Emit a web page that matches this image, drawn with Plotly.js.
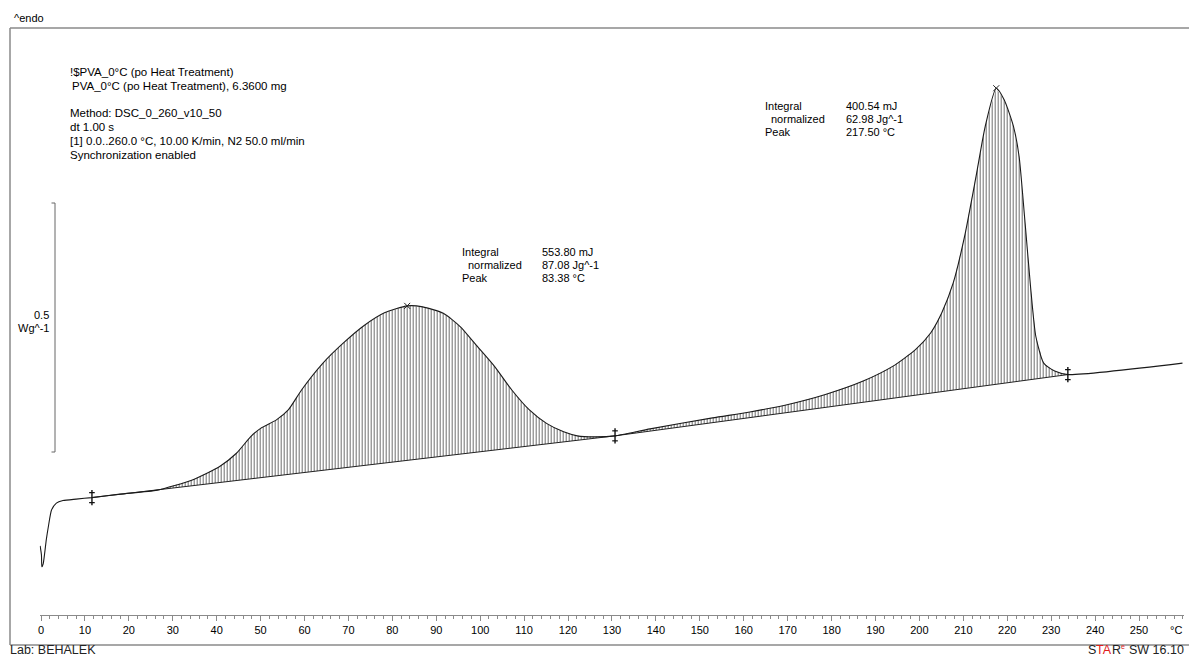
<!DOCTYPE html>
<html>
<head>
<meta charset="utf-8">
<script src="https://cdn.plot.ly/plotly-3.0.1.min.js"></script>
<style>html,body{margin:0;padding:0;background:#fff;}#chart{width:1189px;height:657px;}</style>
</head>
<body>
<div id="chart"></div>
<script>
// ---- data (temperature in °C, heat flow in W/g, endo up) ----
const tempC = [-0.2, 0.1, 0.2, 0.5, 1.2, 1.7, 2.4, 3.5, 5.0, 8.0, 11.6, 18.0, 26.5, 34.3, 40.6, 44.5, 47.7, 50.0, 53.6, 56.3,
  59.4, 64.1, 68.8, 73.5, 78.2, 83.4, 86.9, 91.6, 95.5, 99.4, 103.3, 107.2, 111.2, 115.1, 119.0, 122.1, 126.0, 130.7,
  138.7, 152.9, 161.4, 170.1, 178.6, 187.2, 194.0, 199.1, 202.6, 205.1, 207.7, 210.3, 212.9, 215.0, 217.5, 219.3,
  221.4, 222.7, 224.0, 225.3, 226.5, 228.3, 230.8, 233.8, 259.9];
const heatFlow = [-0.052, -0.070, -0.094, -0.088, -0.040, -0.012, 0.020, 0.034, 0.039, 0.042, 0.045, 0.052, 0.060, 0.080,
  0.107, 0.134, 0.167, 0.184, 0.201, 0.221, 0.262, 0.314, 0.355, 0.390, 0.416, 0.430, 0.428, 0.415, 0.388, 0.348,
  0.308, 0.261, 0.221, 0.194, 0.177, 0.169, 0.167, 0.169, 0.183, 0.205, 0.217, 0.232, 0.252, 0.279, 0.309, 0.342,
  0.376, 0.416, 0.476, 0.570, 0.690, 0.791, 0.867, 0.844, 0.791, 0.730, 0.603, 0.469, 0.369, 0.315, 0.299, 0.292, 0.315];

// integration limits (start/end of each integral) and linear baselines
const limitT = [11.6, 130.7, 233.8];
const limitW = [0.045, 0.169, 0.292];
// peaks
const peakT = [83.38, 217.50];
const peakW = [0.430, 0.867];
const integralMJ = ["553.80 mJ", "400.54 mJ"];
const normalized = ["87.08 Jg^-1", "62.98 Jg^-1"];
const peakLabel = ["83.38 °C", "217.50 °C"];
// axis ticks
const tickValues = [0, 10, 20, 30, 40, 50, 60, 70, 80, 90, 100, 110, 120, 130, 140, 150, 160, 170, 180, 190, 200, 210, 220, 230, 240, 250];
const scaleBarW = 0.5;

const headerLines = ["!$PVA_0°C (po Heat Treatment)", "PVA_0°C (po Heat Treatment), 6.3600 mg"];
const methodLines = ["Method: DSC_0_260_v10_50", "dt 1.00 s", "[1] 0.0..260.0 °C, 10.00 K/min, N2 50.0 ml/min", "Synchronization enabled"];

// ---- page geometry ----
const W = 1189, H = 657;
const FONT = "Liberation Sans, Arial, sans-serif";
const px = v => v / W;
const py = v => 1 - v / H;
// y scale: 498 px per W/g, heat flow 0 at pixel row 520
const yTop = 520 / 498, yBot = (520 - H) / 498;

const traces = [];
// hatched integral areas
for (let k = 0; k < 2; k++) {
  const t0 = limitT[k], t1 = limitT[k + 1];
  const xs = [], ys = [];
  for (let i = 0; i < tempC.length; i++) {
    if (tempC[i] >= t0 && tempC[i] <= t1) { xs.push(tempC[i]); ys.push(heatFlow[i]); }
  }
  xs.push(t1, t0); ys.push(limitW[k + 1], limitW[k]);
  traces.push({
    x: xs, y: ys, type: 'scatter', mode: 'lines', fill: 'toself', hoverinfo: 'skip',
    line: {width: 0, color: 'rgba(0,0,0,0)', shape: 'linear'},
    fillcolor: 'rgba(255,255,255,0)',
    fillpattern: {shape: '|', size: 3, solidity: 0.35, fgcolor: '#6e6e6e', bgcolor: 'rgba(255,255,255,0)'}
  });
}
// baselines
traces.push({x: limitT, y: limitW, type: 'scatter', mode: 'lines', line: {color: '#222', width: 1}, hoverinfo: 'skip'});
// measured curve
traces.push({x: tempC, y: heatFlow, type: 'scatter', mode: 'lines', line: {color: '#1a1a1a', width: 1.1, shape: 'spline', smoothing: 0.6}, hoverinfo: 'skip'});
// integration limit markers (vertical tick with small caps)
traces.push({x: limitT, y: limitW, type: 'scatter', mode: 'markers', hoverinfo: 'skip',
  marker: {symbol: 'line-ns-open', size: 11, color: '#111', line: {color: '#111', width: 1.4}}});
traces.push({x: limitT.concat(limitT), y: limitW.map(v => v + 5 / 498).concat(limitW.map(v => v - 5 / 498)), type: 'scatter', mode: 'markers', hoverinfo: 'skip',
  marker: {symbol: 'line-ew-open', size: 4, color: '#111', line: {color: '#111', width: 1.2}}});
// peak markers
traces.push({x: peakT, y: peakW, type: 'scatter', mode: 'markers', hoverinfo: 'skip',
  marker: {symbol: 'x-thin-open', size: 6, color: '#222', line: {color: '#222', width: 1}}});

const ann = [];
function txt(x, y, text, opts) {
  ann.push(Object.assign({xref: 'paper', yref: 'paper', x: px(x), y: py(y), text: text, showarrow: false,
    xanchor: 'left', yanchor: 'middle', font: {family: FONT, size: 11, color: '#000'}}, opts || {}));
}
txt(12, 18, "^endo");
headerLines.forEach((s, i) => txt(i === 0 ? 68 : 70, 72 + i * 14, s, {font: {family: FONT, size: 11.5, color: '#000'}}));
methodLines.forEach((s, i) => txt(68, 113 + i * 14, s, {font: {family: FONT, size: 11.5, color: '#000'}}));
// integral tables
const tables = [{lx: 460, vx: 540, y0: 252}, {lx: 763, vx: 844, y0: 106}];
tables.forEach((t, k) => {
  txt(t.lx, t.y0, "Integral");
  txt(t.lx + 6, t.y0 + 13, "normalized");
  txt(t.lx, t.y0 + 26, "Peak");
  txt(t.vx, t.y0, integralMJ[k]);
  txt(t.vx, t.y0 + 13, normalized[k]);
  txt(t.vx, t.y0 + 26, peakLabel[k]);
});
// scale bar label
txt(51, 315, String(scaleBarW), {xanchor: 'right'});
txt(51, 328, "Wg^-1", {xanchor: 'right'});
// unit at axis end
txt(1168, 630, "°C");
// footer
const FOOT = {family: FONT, size: 12.5, color: '#222'};
const RED = {family: FONT, size: 12.5, color: '#e0201b'};
txt(8, 650, "Lab: BEHALEK", {font: FOOT});
txt(1186, 650, "SW 16.10", {xanchor: 'right', font: FOOT});
txt(1086, 650, "S", {font: FOOT});
txt(1094.3, 650, "TA", {font: RED});
txt(1110.3, 650, "R", {font: FOOT});
txt(1119, 646, "e", {font: {family: FONT, size: 7, color: '#e0201b'}});

const barTopW = yTop - 203 / 498;
const shapes = [
  // frame
  {type: 'line', xref: 'paper', yref: 'paper', x0: px(10), x1: px(1189), y0: py(28), y1: py(28), line: {color: '#8a8a8a', width: 1.5}},
  {type: 'line', xref: 'paper', yref: 'paper', x0: px(10), x1: px(10), y0: py(28), y1: py(645), line: {color: '#8a8a8a', width: 1.5}},
  {type: 'line', xref: 'paper', yref: 'paper', x0: px(10), x1: px(1189), y0: py(645), y1: py(645), line: {color: '#8a8a8a', width: 1.5}},
  // scale bar (0.5 W/g)
  {type: 'line', xref: 'paper', yref: 'y', x0: px(55), x1: px(55), y0: barTopW, y1: barTopW - scaleBarW, line: {color: '#666', width: 1}},
  {type: 'line', xref: 'paper', yref: 'y', x0: px(51.5), x1: px(55), y0: barTopW, y1: barTopW, line: {color: '#666', width: 1}},
  {type: 'line', xref: 'paper', yref: 'y', x0: px(51.5), x1: px(55), y0: barTopW - scaleBarW, y1: barTopW - scaleBarW, line: {color: '#666', width: 1}}
];

const x0 = -0.3, x1 = 260.2, ppu = 4.392;
const layout = {
  width: W, height: H,
  margin: {l: 0, r: 0, t: 0, b: 0, pad: 0},
  paper_bgcolor: '#fff', plot_bgcolor: 'rgba(0,0,0,0)',
  showlegend: false,
  xaxis: {
    domain: [px(41 + x0 * ppu), px(41 + x1 * ppu)], range: [x0, x1],
    anchor: 'free', position: py(615),
    showline: true, linecolor: '#8a8a8a', linewidth: 1,
    showgrid: false, zeroline: false,
    tickmode: 'array', tickvals: tickValues, ticktext: tickValues.map(String),
    ticks: 'outside', ticklen: 5, tickcolor: '#8a8a8a', tickwidth: 1,
    minor: {dtick: 2, tick0: 0, ticks: 'outside', ticklen: 3, tickcolor: '#8a8a8a', showgrid: false},
    tickfont: {family: FONT, size: 11, color: '#000'}
  },
  yaxis: {domain: [0, 1], range: [yBot, yTop], visible: false, fixedrange: true},
  shapes: shapes,
  annotations: ann
};
Plotly.newPlot('chart', traces, layout, {staticPlot: true, displayModeBar: false});
</script>
</body>
</html>
